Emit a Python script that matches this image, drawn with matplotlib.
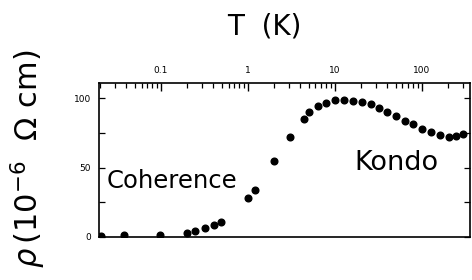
import numpy as np
import matplotlib
matplotlib.use("Agg")
import matplotlib.pyplot as plt
from matplotlib.ticker import LogLocator, FixedLocator, NullFormatter

# 温度 (K) と抵抗率 (10^-6 Ω cm)
temperature = [0.0207, 0.038, 0.099, 0.198, 0.247, 0.325, 0.409, 0.497,
               1.0, 1.21, 1.98, 3.03, 4.39, 5.05, 6.37, 8.0, 10.1, 12.7,
               16.0, 20.3, 25.8, 32.1, 40.1, 50.5, 64.1, 80.0, 100.7,
               127, 162, 204, 250, 299]
resistivity = [0.5, 1.0, 1.0, 3.1, 4.3, 6.7, 8.4, 10.8,
               27.8, 34.0, 54.9, 71.7, 84.9, 90.1, 94.2, 96.2, 98.8, 98.6,
               97.6, 96.9, 95.5, 92.8, 90.1, 87.3, 83.7, 81.3, 77.9,
               75.5, 73.2, 72.2, 72.9, 74.3]

x_ticks = [0.1, 1, 10, 100]
x_tick_labels = ['0.1', '1', '10', '100']
y_ticks = [0, 50, 100]

fig = plt.figure(figsize=(4.72, 2.8), dpi=100)
ax = fig.add_axes([0.21, 0.154, 0.786, 0.55])

ax.plot(temperature, resistivity, 'o', color='black', markersize=4.8, clip_on=True)

ax.set_xscale('log')
ax.set_xlim(0.0195, 360)
ax.set_ylim(0, 111)

# 上側に対数目盛
ax.xaxis.set_ticks_position('top')
ax.xaxis.set_major_locator(FixedLocator(x_ticks))
ax.set_xticklabels(x_tick_labels)
ax.xaxis.set_minor_locator(LogLocator(base=10, subs=np.arange(2, 10)))
ax.xaxis.set_minor_formatter(NullFormatter())
ax.tick_params(axis='x', which='major', direction='in', length=6, width=1,
               labelsize=6.5, pad=6, top=True, bottom=False)
ax.tick_params(axis='x', which='minor', direction='in', length=3.5, width=0.9,
               top=True, bottom=False)

ax.set_yticks(y_ticks)
ax.yaxis.set_minor_locator(FixedLocator([25, 75]))
ax.tick_params(axis='y', which='both', direction='in', length=4, width=0.9,
               labelsize=6.5, left=True, right=True, pad=6)

for s in ax.spines.values():
    s.set_linewidth(1.2)

ax.text(0.0236, 40, 'Coherence', fontsize=17.5, family='DejaVu Sans',
        va='center', ha='left')
ax.text(51, 53, 'Kondo', fontsize=19.5, family='DejaVu Sans',
        va='center', ha='center')

fig.text(0.56, 0.904, 'T  (K)', fontsize=20, ha='center', va='center')
fig.text(0.059, 0.432, r'$\rho\,(10^{-6}\ \ \Omega\ \mathrm{cm})$', fontsize=22,
         rotation=90, ha='center', va='center')

fig.savefig('out.png', dpi=100)
